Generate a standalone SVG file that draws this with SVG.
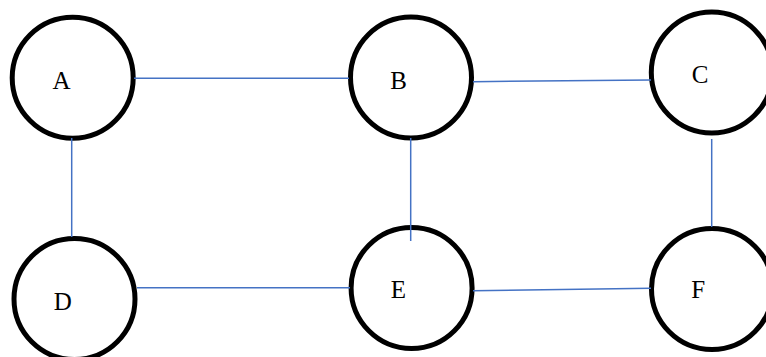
<svg xmlns="http://www.w3.org/2000/svg" width="766" height="357" viewBox="0 0 766 357">
<style>
.node circle{fill:#fff;stroke:#000;stroke-width:5}
.node text{font-family:"Liberation Serif","Times New Roman",serif;font-size:25px;fill:#000;text-anchor:middle}
.edges line{stroke:#4472C4;stroke-width:1.5}
</style>
<rect width="766" height="357" fill="#fff"/>
<g id="A" class="node"><circle cx="72.7" cy="77.8" r="60.5"/><text x="61.6" y="89">A</text></g>
<g id="B" class="node"><circle cx="411" cy="77.5" r="60.5"/><text x="398.7" y="89">B</text></g>
<g id="C" class="node"><circle cx="711.8" cy="72.5" r="60.5"/><text x="700" y="83">C</text></g>
<g id="D" class="node"><circle cx="74.5" cy="299" r="60.5"/><text x="62.7" y="310">D</text></g>
<g id="E" class="node"><circle cx="411.6" cy="288" r="60.5"/><text x="398.3" y="298">E</text></g>
<g id="F" class="node"><circle cx="712" cy="289" r="60.5"/><text x="698.3" y="298">F</text></g>
<g id="edges" class="edges">
<line x1="134" y1="78.3" x2="349" y2="78.3"/>
<line x1="473" y1="81.7" x2="651" y2="80"/>
<line x1="71.7" y1="138" x2="71.7" y2="237"/>
<line x1="410.7" y1="138" x2="410.7" y2="241"/>
<line x1="711.7" y1="139" x2="711.7" y2="227"/>
<line x1="137" y1="287.7" x2="350" y2="287.7"/>
<line x1="473" y1="290.7" x2="651" y2="288.3"/>
</g>
</svg>
